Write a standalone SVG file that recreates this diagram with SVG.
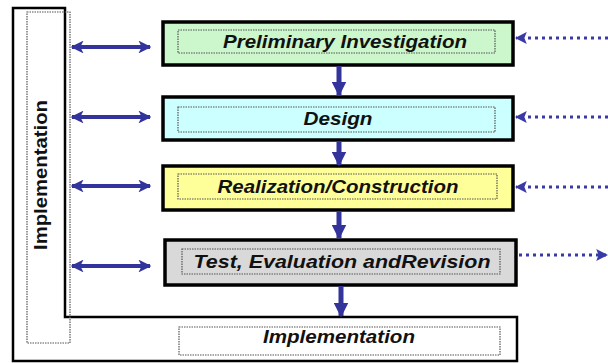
<svg xmlns="http://www.w3.org/2000/svg" width="608" height="363" viewBox="0 0 608 363">
<style>
.box{stroke:#000;stroke-width:3.5}
.inner{fill:none;stroke:#555;stroke-width:1.2;stroke-dasharray:1.5,1}
.lbl{font-family:"Liberation Sans",Arial,sans-serif;font-weight:bold;font-style:italic;font-size:18.5px;fill:#111;text-anchor:middle}
.con{stroke:#33339c;fill:none}
.dot{stroke:#3a3aa6;stroke-width:3;stroke-dasharray:3,4;fill:none}
</style>
<defs>
<marker id="ah" viewBox="0 0 10 10" refX="9" refY="5" markerWidth="3.2" markerHeight="3.2" orient="auto-start-reverse" markerUnits="strokeWidth"><path d="M0,0 L10,5 L0,10 L2.5,5 Z" fill="#33339c"/></marker>
<marker id="ahd" viewBox="0 0 10 10" refX="9" refY="5" markerWidth="4" markerHeight="4" orient="auto" markerUnits="strokeWidth"><path d="M0,0 L10,5 L0,10 L2,5 Z" fill="#3a3aa6"/></marker>
<marker id="ahs" viewBox="0 0 10 10" refX="9" refY="5" markerWidth="3" markerHeight="3" orient="auto" markerUnits="strokeWidth"><path d="M0,0 L10,5 L0,10 Z" fill="#33339c"/></marker>
</defs>
<rect width="608" height="363" fill="#fff"/>
<g id="frame">
<polygon points="13,8 65,8 65,317 517,317 517,361 13,361" fill="#fff" stroke="#000" stroke-width="2.5"/>
<rect x="27" y="12" width="43" height="331" class="inner"/>
<text x="46.5" y="175" transform="rotate(-90 46.5 175)" font-family="Liberation Sans,Arial,sans-serif" font-weight="bold" font-size="19" text-anchor="middle" textLength="150" lengthAdjust="spacingAndGlyphs" fill="#111">Implementation</text>
</g>
<g id="n1">
<rect x="163" y="22" width="350" height="43" fill="#ccf6cc" class="box"/>
<rect x="178" y="30" width="317" height="23" class="inner"/>
<text x="345" y="48" class="lbl" textLength="244" lengthAdjust="spacingAndGlyphs">Preliminary Investigation</text>
</g>
<g id="n2">
<rect x="163" y="97" width="350" height="43" fill="#ccffff" class="box"/>
<rect x="178" y="107" width="317" height="25" class="inner"/>
<text x="338" y="125" class="lbl" textLength="69" lengthAdjust="spacingAndGlyphs">Design</text>
</g>
<g id="n3">
<rect x="163" y="166" width="350" height="44" fill="#ffff99" class="box"/>
<rect x="178" y="174" width="319" height="25" class="inner"/>
<text x="338" y="193" class="lbl" textLength="241" lengthAdjust="spacingAndGlyphs">Realization/Construction</text>
</g>
<g id="n4">
<rect x="165" y="240" width="351" height="45" fill="#d9d9d9" class="box"/>
<rect x="182" y="249" width="318" height="25" class="inner"/>
<text x="342" y="268" class="lbl" textLength="297" lengthAdjust="spacingAndGlyphs">Test, Evaluation andRevision</text>
</g>
<g id="n5">
<rect x="179" y="327" width="321" height="28" class="inner"/>
<text x="339" y="343" class="lbl" textLength="152" lengthAdjust="spacingAndGlyphs">Implementation</text>
</g>
<g id="connectors">
<line x1="339" y1="66" x2="339" y2="95" class="con" stroke-width="5" marker-end="url(#ahs)"/>
<line x1="339" y1="141" x2="339" y2="165" class="con" stroke-width="5" marker-end="url(#ahs)"/>
<line x1="339" y1="211" x2="339" y2="238" class="con" stroke-width="5" marker-end="url(#ahs)"/>
<line x1="341" y1="286" x2="341" y2="316" class="con" stroke-width="5" marker-end="url(#ahs)"/>
<line x1="72" y1="47" x2="150" y2="47" class="con" stroke-width="4" marker-start="url(#ah)" marker-end="url(#ah)"/>
<line x1="72" y1="117" x2="150" y2="117" class="con" stroke-width="4" marker-start="url(#ah)" marker-end="url(#ah)"/>
<line x1="72" y1="186" x2="150" y2="186" class="con" stroke-width="4" marker-start="url(#ah)" marker-end="url(#ah)"/>
<line x1="72" y1="266" x2="150" y2="266" class="con" stroke-width="4" marker-start="url(#ah)" marker-end="url(#ah)"/>
<line x1="608" y1="38" x2="516" y2="38" class="dot" marker-end="url(#ahd)"/>
<line x1="608" y1="117" x2="516" y2="117" class="dot" marker-end="url(#ahd)"/>
<line x1="608" y1="187" x2="516" y2="187" class="dot" marker-end="url(#ahd)"/>
<line x1="519" y1="255" x2="607" y2="255" class="dot" marker-end="url(#ahd)"/>
</g>
</svg>
